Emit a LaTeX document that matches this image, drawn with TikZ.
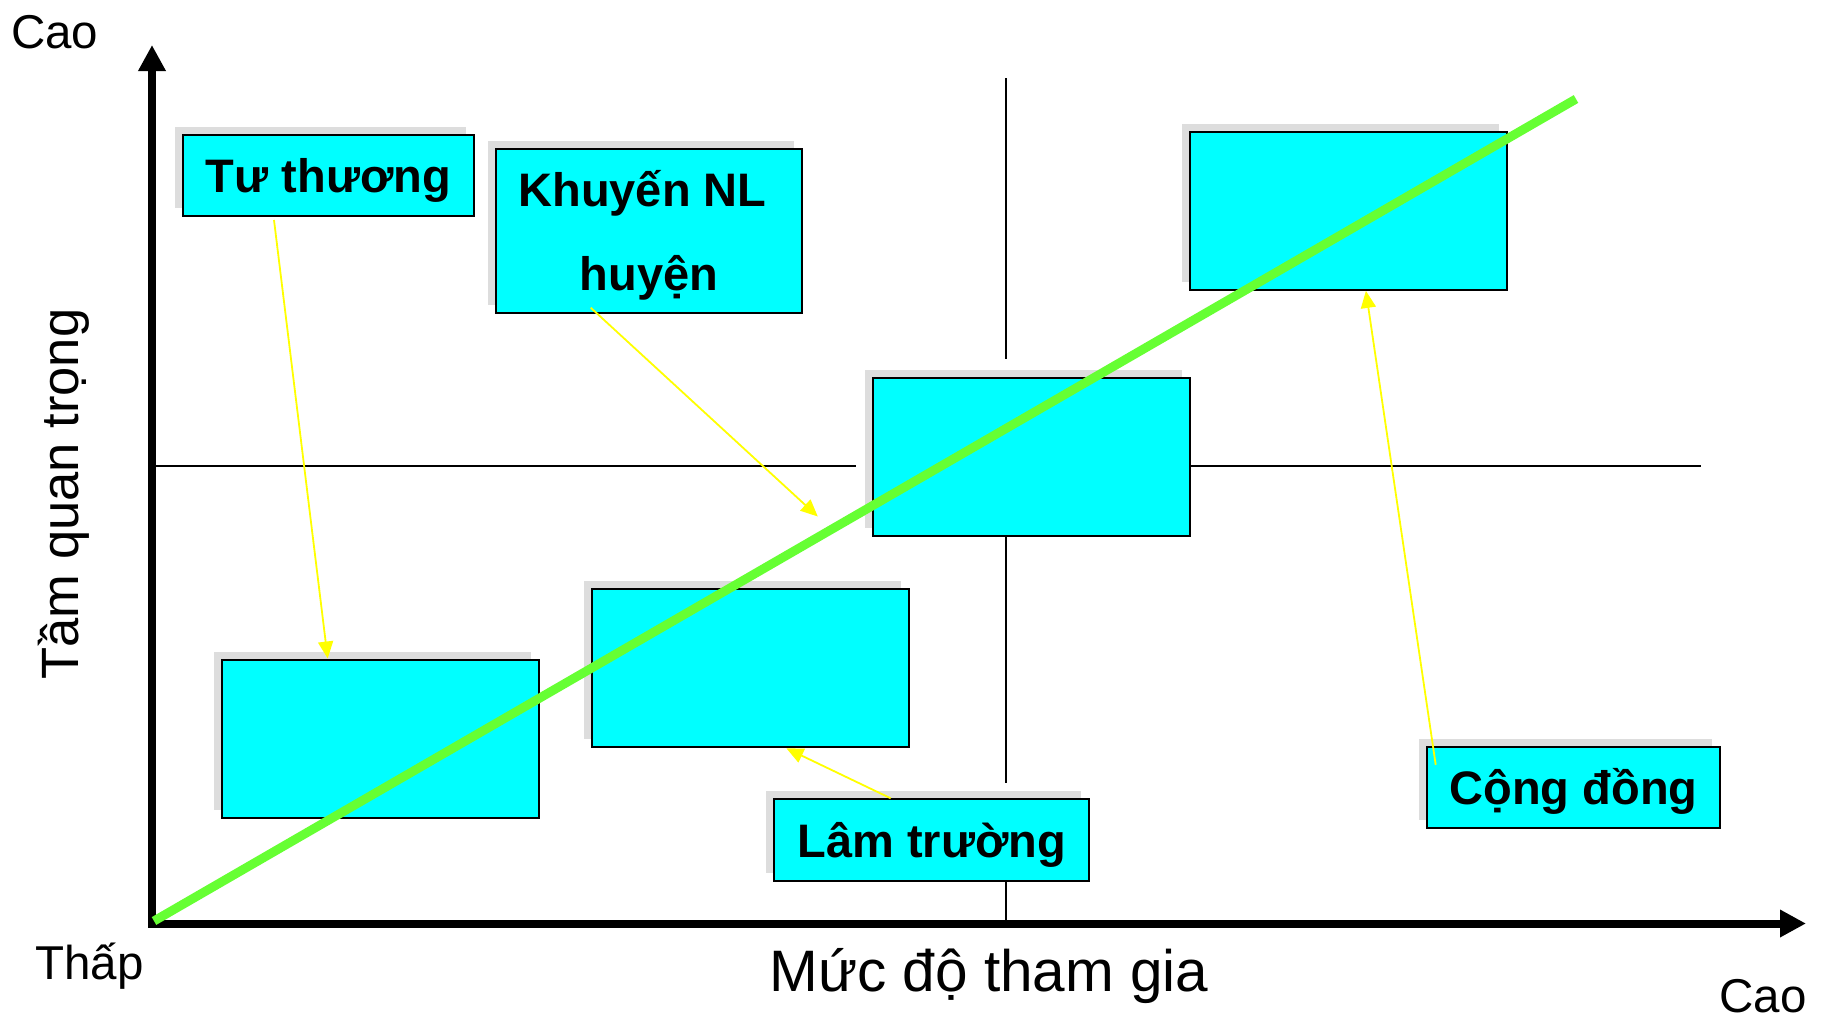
\documentclass[tikz,border=0pt]{standalone}
\usepackage{fontspec}
\setmainfont{Liberation Sans}
\usetikzlibrary{arrows.meta,shadows}
\definecolor{boxcyan}{RGB}{0,255,255}
\definecolor{linegreen}{RGB}{102,255,51}
\definecolor{shgray}{RGB}{221,221,221}
\definecolor{arrowyellow}{RGB}{255,255,0}
\begin{document}
\begin{tikzpicture}[x=1pt,y=-1pt,
  boxnode/.style={draw=black, line width=2pt, fill=boxcyan, inner sep=0pt,
    text height=34pt, text depth=0pt,
    font=\fontsize{47pt}{56pt}\selectfont\bfseries,
    drop shadow={shadow xshift=-8pt, shadow yshift=8pt, fill=shgray, opacity=1, draw=none}},
  bigbox/.style={boxnode, minimum width=317pt, minimum height=158pt},
  boldtext/.style={inner sep=0pt, font=\fontsize{47pt}{56pt}\selectfont\bfseries},
  plaintext/.style={inner sep=0pt, font=\fontsize{47.5pt}{56pt}\selectfont},
  thinline/.style={line width=2pt, black},
  axisline/.style={line width=8pt, black, line join=miter,
    arrows={Triangle[length=26pt,width=26pt]-Triangle[length=26pt,width=26pt]}},
  pointer/.style={line width=1.8pt, arrowyellow, -{Triangle[length=17pt,width=15pt]}},
  trend/.style={line width=9pt, linegreen}
]
\useasboundingbox (0,0) rectangle (1824,1021);

% thin quadrant lines
\coordinate (v0) at (1005.7,78);
\coordinate (v1) at (1005.7,359);
\coordinate (v2) at (1005.7,536);
\coordinate (v3) at (1005.7,782.7);
\coordinate (v4) at (1005.7,880.7);
\coordinate (v5) at (1005.7,920);
\coordinate (h0) at (155,466);
\coordinate (h1) at (855.7,466);
\coordinate (h2) at (1190,466);
\coordinate (h3) at (1700.8,466);
\draw[thinline] (v0) -- (v1) (v2) -- (v3) (v4) -- (v5);
\draw[thinline] (h0) -- (h1) (h2) -- (h3);

% axes
\coordinate (ytip) at (152,45);
\coordinate (orig) at (152,923.5);
\coordinate (xtip) at (1806,923.5);
\draw[axisline] (ytip) -- (orig) -- (xtip);

% boxes
\node[boxnode, minimum width=291.6pt, minimum height=81pt] (tu) at (328.5,175.5) {Tư thương};
\node[boxnode, minimum width=305.7pt, minimum height=164.3pt] (khuyen) at (648.9,231.2) {};
\node[bigbox] (tr) at (1348.7,210.9) {};
\node[bigbox] (ctr) at (1031.4,456.9) {};
\node[bigbox] (mid) at (750.3,668.3) {};
\node[bigbox] (bl) at (380.9,738.5) {};
\node[boxnode, minimum width=315pt, minimum height=81.4pt] (lam) at (931.8,840) {Lâm trường};
\node[boxnode, minimum width=293pt, minimum height=80.7pt] (cong) at (1573.5,787.4) {Cộng đồng};

\node[boldtext, anchor=base] (kh1) at (642.5,206.7) {Khuyến NL};
\node[boldtext, anchor=base] (kh2) at (648.9,290) {huyện};

% trend line
\coordinate (g0) at (154,921);
\coordinate (g1) at (1576,99);
\draw[trend] (g0) -- (g1);

% yellow pointers
\coordinate (kend) at (817.8,516.5);
\draw[pointer] ([xshift=92.3pt,yshift=-3pt]tu.south west) -- ([xshift=106.3pt]bl.north west);
\draw[pointer] ([xshift=95.7pt,yshift=6.6pt]khuyen.south west) -- (kend);
\draw[pointer] ([xshift=117.4pt]lam.north west) -- ([xshift=195.6pt]mid.south west);
\draw[pointer] ([xshift=9.7pt,yshift=-18.7pt]cong.north west) -- ([xshift=176.7pt]tr.south west);

% axis labels
\node[plaintext, anchor=base west] (caoy) at (11,48) {Cao};
\node[plaintext, anchor=base west] (thap) at (35,979) {Thấp};
\node[plaintext, anchor=base east] (caox) at (1807,1012) {Cao};
\node[inner sep=0pt, font=\fontsize{58.5pt}{68pt}\selectfont, anchor=base] (xlab) at (989,991.7) {Mức độ tham gia};
\node[inner sep=0pt, font=\fontsize{52.5pt}{62pt}\selectfont, anchor=base, rotate=90] (ylab) at (78,494) {Tầm quan trọng};
\end{tikzpicture}
\end{document}
